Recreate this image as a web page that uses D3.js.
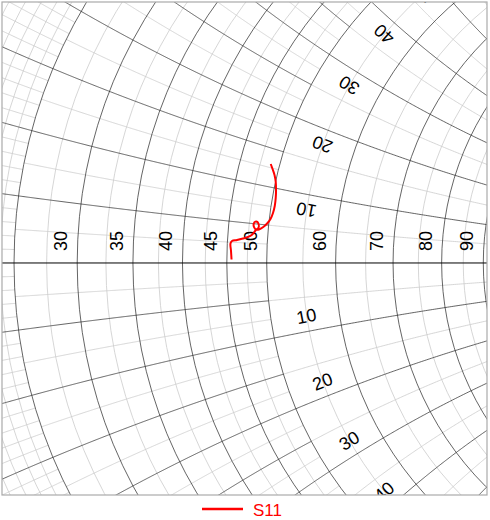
<!DOCTYPE html>
<html>
<head>
<meta charset="utf-8">
<script src="https://cdn.jsdelivr.net/npm/d3@7"></script>
<style>
  body { margin: 0; background: #fff; }
  text { font-family: "Liberation Sans", Arial, sans-serif; }
</style>
</head>
<body>
<div id="chart"></div>
<script>
  var z0 = 50;

  // grid values in ohms
  var resMajor = [25, 30, 35, 40, 45, 50, 60, 70, 80, 90, 100];
  var resMinor = [20, 21, 22, 23, 24, 27.5, 32.5, 37.5, 42.5, 47.5, 55, 65, 75, 85, 95];
  var resLabels = [30, 35, 40, 45, 50, 60, 70, 80, 90];
  var reactLabels = [10, 20, 30, 40, 50];
  // reactance arcs: [r from, r to, major step, minor step]
  var reactBands = [[0, 25, 5, 1], [25, 50, 5, 2.5], [50, Infinity, 10, 5]];
  var reactMax = 100;

  // S11 trace, reflection coefficient
  var s11Re = [-0.0464, -0.0471, -0.0478, -0.0458, -0.0392, -0.0313, -0.0247, -0.0198,
               -0.0148, -0.0106, -0.0119, -0.0150, -0.0172, -0.0164, -0.0137, -0.0095,
               -0.0045, 0.0008, 0.0050, 0.0083, 0.0106, 0.0119, 0.0123, 0.0119,
               0.0103, 0.0077, 0.0053];
  var s11Im = [0.0046, 0.0158, 0.0257, 0.0290, 0.0303, 0.0323, 0.0343, 0.0369,
               0.0429, 0.0471, 0.0537, 0.0545, 0.0515, 0.0466, 0.0439, 0.0445,
               0.0475, 0.0524, 0.0580, 0.0660, 0.0752, 0.0858, 0.0963, 0.1069,
               0.1161, 0.1240, 0.1306];

  var width = 490, height = 520;
  var box = {left: 2, top: 2, right: 487, bottom: 495};

  var x = d3.scaleLinear().domain([-0.3492, 0.2906]).range([box.left, box.right]);
  var y = d3.scaleLinear().domain([0.3443, -0.3061]).range([box.top, box.bottom]);

  function gamma(R, X) {
    var r = R / z0, xx = X / z0;
    var d = (r + 1) * (r + 1) + xx * xx;
    return [(r * r + xx * xx - 1) / d, 2 * xx / d];
  }

  var svg = d3.select("#chart").append("svg")
    .attr("width", width)
    .attr("height", height);

  svg.append("defs").append("clipPath").attr("id", "clip")
    .append("rect")
    .attr("x", box.left).attr("y", box.top)
    .attr("width", box.right - box.left)
    .attr("height", box.bottom - box.top);

  var chart = svg.append("g").attr("clip-path", "url(#clip)");
  var gMinor = chart.append("g");
  var gMajor = chart.append("g");

  var line = d3.line()
    .x(function(d) { return x(d[0]); })
    .y(function(d) { return y(d[1]); });

  // resistance circles
  function resCircle(g, R, color, w) {
    var r = R / z0;
    g.append("circle")
      .attr("cx", x(r / (1 + r)))
      .attr("cy", y(0))
      .attr("r", x(1 / (1 + r)) - x(0))
      .attr("fill", "none")
      .attr("stroke", color)
      .attr("stroke-width", w);
  }
  resMinor.forEach(function(R) { resCircle(gMinor, R, "#cccccc", 0.8); });
  resMajor.forEach(function(R) { resCircle(gMajor, R, "#222", 0.7); });

  // reactance arcs, band by band
  function rSamples(r0, r1) {
    var n = 300;
    if (r1 === Infinity) {
      return d3.range(n + 1).map(function(i) { return r0 / (1 - i * 0.998 / n); });
    }
    return d3.range(n + 1).map(function(i) { return r0 + (r1 - r0) * i / n; });
  }

  reactBands.forEach(function(b) {
    var rs = rSamples(b[0], b[1]);
    for (var k = 1; k * b[3] <= reactMax + 1e-9; k++) {
      var v = k * b[3];
      var isMajor = Math.abs(v / b[2] - Math.round(v / b[2])) < 1e-6;
      [v, -v].forEach(function(X) {
        var pts = rs.map(function(R) { return gamma(R, X); });
        (isMajor ? gMajor : gMinor).append("path")
          .attr("d", line(pts))
          .attr("fill", "none")
          .attr("stroke", isMajor ? "#222" : "#cccccc")
          .attr("stroke-width", isMajor ? 0.7 : 0.8);
      });
    }
  });

  // real axis
  chart.append("line")
    .attr("x1", x(-1)).attr("x2", x(1))
    .attr("y1", y(0)).attr("y2", y(0))
    .attr("stroke", "#000")
    .attr("stroke-width", 1);

  // resistance labels
  chart.selectAll(".rlab")
    .data(resLabels)
    .enter().append("text")
    .attr("class", "rlab")
    .attr("transform", function(R) {
      var r = R / z0;
      return "translate(" + (x((r - 1) / (r + 1)) - 16) + "," + (y(0) - 22) + ") rotate(-90)";
    })
    .attr("text-anchor", "middle")
    .attr("dominant-baseline", "central")
    .style("font-size", "18px")
    .text(function(R) { return R; });

  // reactance labels, placed along the 55 ohm circle
  var xl = [];
  reactLabels.forEach(function(v) { xl.push(v); xl.push(-v); });
  chart.selectAll(".xlab")
    .data(xl)
    .enter().append("text")
    .attr("class", "xlab")
    .attr("transform", function(X) {
      var g = gamma(55, X);
      var c = [1, z0 / X];
      var dx = g[0] - c[0], dy = g[1] - c[1];
      var n = Math.sqrt(dx * dx + dy * dy);
      var sx = dx / n, sy = -dy / n;            // screen direction away from arc centre
      var px = x(g[0]) + sx * 15, py = y(g[1]) + sy * 15;
      var tx = -sy, ty = sx;
      if (tx < 0) { tx = -tx; ty = -ty; }
      var ang = Math.atan2(ty, tx) * 180 / Math.PI;
      if (X > 0) ang += 180;
      return "translate(" + px + "," + py + ") rotate(" + ang + ")";
    })
    .attr("text-anchor", "middle")
    .attr("dominant-baseline", "central")
    .style("font-size", "18px")
    .text(function(X) { return Math.abs(X); });

  // S11 trace
  var trace = s11Re.map(function(d, i) { return [d, s11Im[i]]; });
  chart.append("path")
    .attr("d", line.curve(d3.curveCatmullRom)(trace))
    .attr("fill", "none")
    .attr("stroke", "#ff0000")
    .attr("stroke-width", 2);

  // plot border
  svg.append("rect")
    .attr("x", box.left).attr("y", box.top)
    .attr("width", box.right - box.left)
    .attr("height", box.bottom - box.top)
    .attr("fill", "none")
    .attr("stroke", "#aaaaaa")
    .attr("stroke-width", 1.2);

  // legend
  var leg = svg.append("g");
  leg.append("line")
    .attr("x1", 202).attr("x2", 243)
    .attr("y1", 509).attr("y2", 509)
    .attr("stroke", "#ff0000")
    .attr("stroke-width", 2.5);
  leg.append("text")
    .attr("x", 253).attr("y", 516)
    .attr("fill", "#ff0000")
    .style("font-size", "17px")
    .text("S11");
</script>
</body>
</html>
